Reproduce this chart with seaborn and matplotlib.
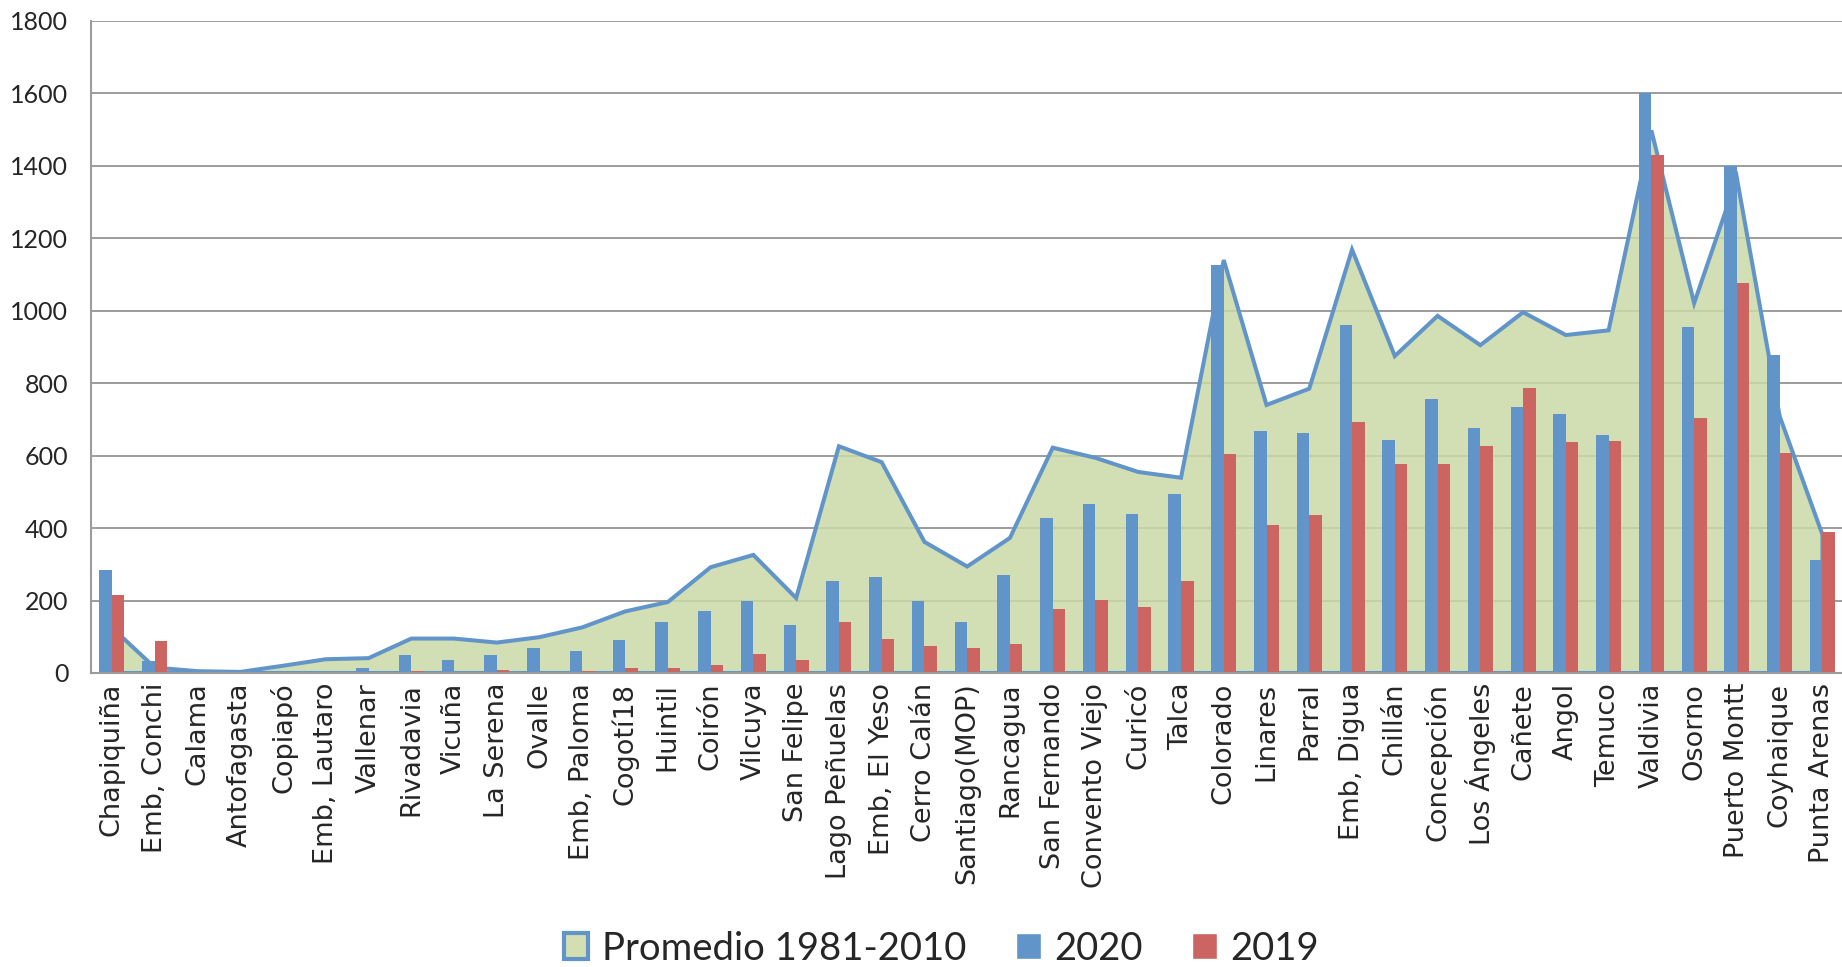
import numpy as np
import pandas as pd
import matplotlib
matplotlib.use("Agg")
import matplotlib.pyplot as plt
from matplotlib.patches import Patch
import seaborn as sns

# ======================
# Datos (mm)
# ======================
estaciones = ["Chapiquiña", "Emb, Conchi", "Calama", "Antofagasta", "Copiapó",
              "Emb, Lautaro", "Vallenar", "Rivadavia", "Vicuña", "La Serena",
              "Ovalle", "Emb, Paloma", "Cogotí18", "Huintil", "Coirón",
              "Vilcuya", "San Felipe", "Lago Peñuelas", "Emb, El Yeso", "Cerro Calán",
              "Santiago(MOP)", "Rancagua", "San Fernando", "Convento Viejo", "Curicó",
              "Talca", "Colorado", "Linares", "Parral", "Emb, Digua",
              "Chillán", "Concepción", "Los Ángeles", "Cañete", "Angol",
              "Temuco", "Valdivia", "Osorno", "Puerto Montt", "Coyhaique",
              "Punta Arenas"]

promedio = [125, 15, 5, 3, 20, 38, 41, 95, 95, 84,
            99, 126, 170, 196, 292, 326, 207, 626, 582, 362,
            294, 373, 622, 594, 555, 539, 1140, 740, 785, 1169,
            875, 986, 905, 996, 933, 946, 1498, 1021, 1366, 709,
            382]

lluvia_2020 = [284, 33, 0, 0, 0, 0, 13, 50, 36, 50,
               68, 62, 92, 142, 171, 200, 132, 255, 265, 200,
               140, 271, 428, 467, 440, 493, 1127, 667, 662, 960,
               644, 756, 677, 735, 716, 658, 1600, 955, 1399, 878,
               313]

lluvia_2019 = [214, 89, 3, 0, 0, 0, 0, 6, 2, 8,
               4, 6, 15, 15, 23, 53, 35, 142, 93, 74,
               68, 80, 178, 201, 183, 255, 604, 409, 436, 692,
               576, 576, 626, 788, 637, 641, 1430, 705, 1078, 608,
               388]

n = len(estaciones)
df = pd.DataFrame({
    "Estacion": estaciones * 2,
    "Anio": ["2020"] * n + ["2019"] * n,
    "mm": lluvia_2020 + lluvia_2019,
})

azul = "#6195C9"
rojo = "#CC6561"
verde = "#CBD9A6"
gris = "#9C9C9C"

# ======================
# Figura
# ======================
sns.set_style("white")
fig = plt.figure(figsize=(18.42, 9.67), dpi=100)
ax = fig.add_axes([90.6 / 1842, 294 / 967, 1753.2 / 1842, 652 / 967])

x = np.arange(n)
ax.fill_between(x, 0, promedio, color=verde, alpha=0.85, lw=0, zorder=1)
ax.plot(np.r_[x[0], x, x[-1], x[0]], np.r_[0, promedio, 0, 0],
        color=azul, lw=2.9, zorder=1.5, solid_joinstyle="miter")

sns.barplot(data=df, x="Estacion", y="mm", hue="Anio", hue_order=["2020", "2019"],
            palette=[azul, rojo], width=0.585, gap=0, saturation=1,
            linewidth=0, legend=False, ax=ax, zorder=3)

ax.set_xlim(-0.5, n - 0.5)
ax.set_ylim(0, 1800)
ax.set_yticks(range(0, 1801, 200))
ax.set_xlabel("")
ax.set_ylabel("")

ax.yaxis.grid(True, color=gris, lw=1.4)
ax.set_axisbelow(True)

for s in ["top", "right"]:
    ax.spines[s].set_visible(False)
for s in ["left", "bottom"]:
    ax.spines[s].set_color(gris)
    ax.spines[s].set_linewidth(1.5)
    ax.spines[s].set_zorder(4)

ax.set_xticks(x, estaciones, rotation=90, fontsize=19.5, family="DejaVu Sans")
ax.set_xticks(np.arange(-0.5, n, 1), minor=True)
ax.tick_params(axis="x", which="major", length=0, pad=7)
ax.tick_params(axis="x", which="minor", length=6.5, width=1.4, color=gris, direction="out")
ax.tick_params(axis="y", length=6, width=1.4, color=gris, pad=10, labelsize=18)
for lbl in ax.get_yticklabels():
    lbl.set_fontfamily("Lato")

handles = [
    Patch(facecolor="#D3DFB3", edgecolor=azul, lw=3, label="Promedio 1981-2010"),
    Patch(facecolor=azul, label="2020"),
    Patch(facecolor=rojo, label="2019"),
]
fig.legend(handles=handles, loc="center", bbox_to_anchor=(0.511, 0.019), ncol=3,
           frameon=False, prop={"family": "Lato", "size": 27.5},
           handlelength=0.65, handleheight=0.65, handletextpad=0.35, columnspacing=1.3)

fig.savefig("out.png", dpi=100)
